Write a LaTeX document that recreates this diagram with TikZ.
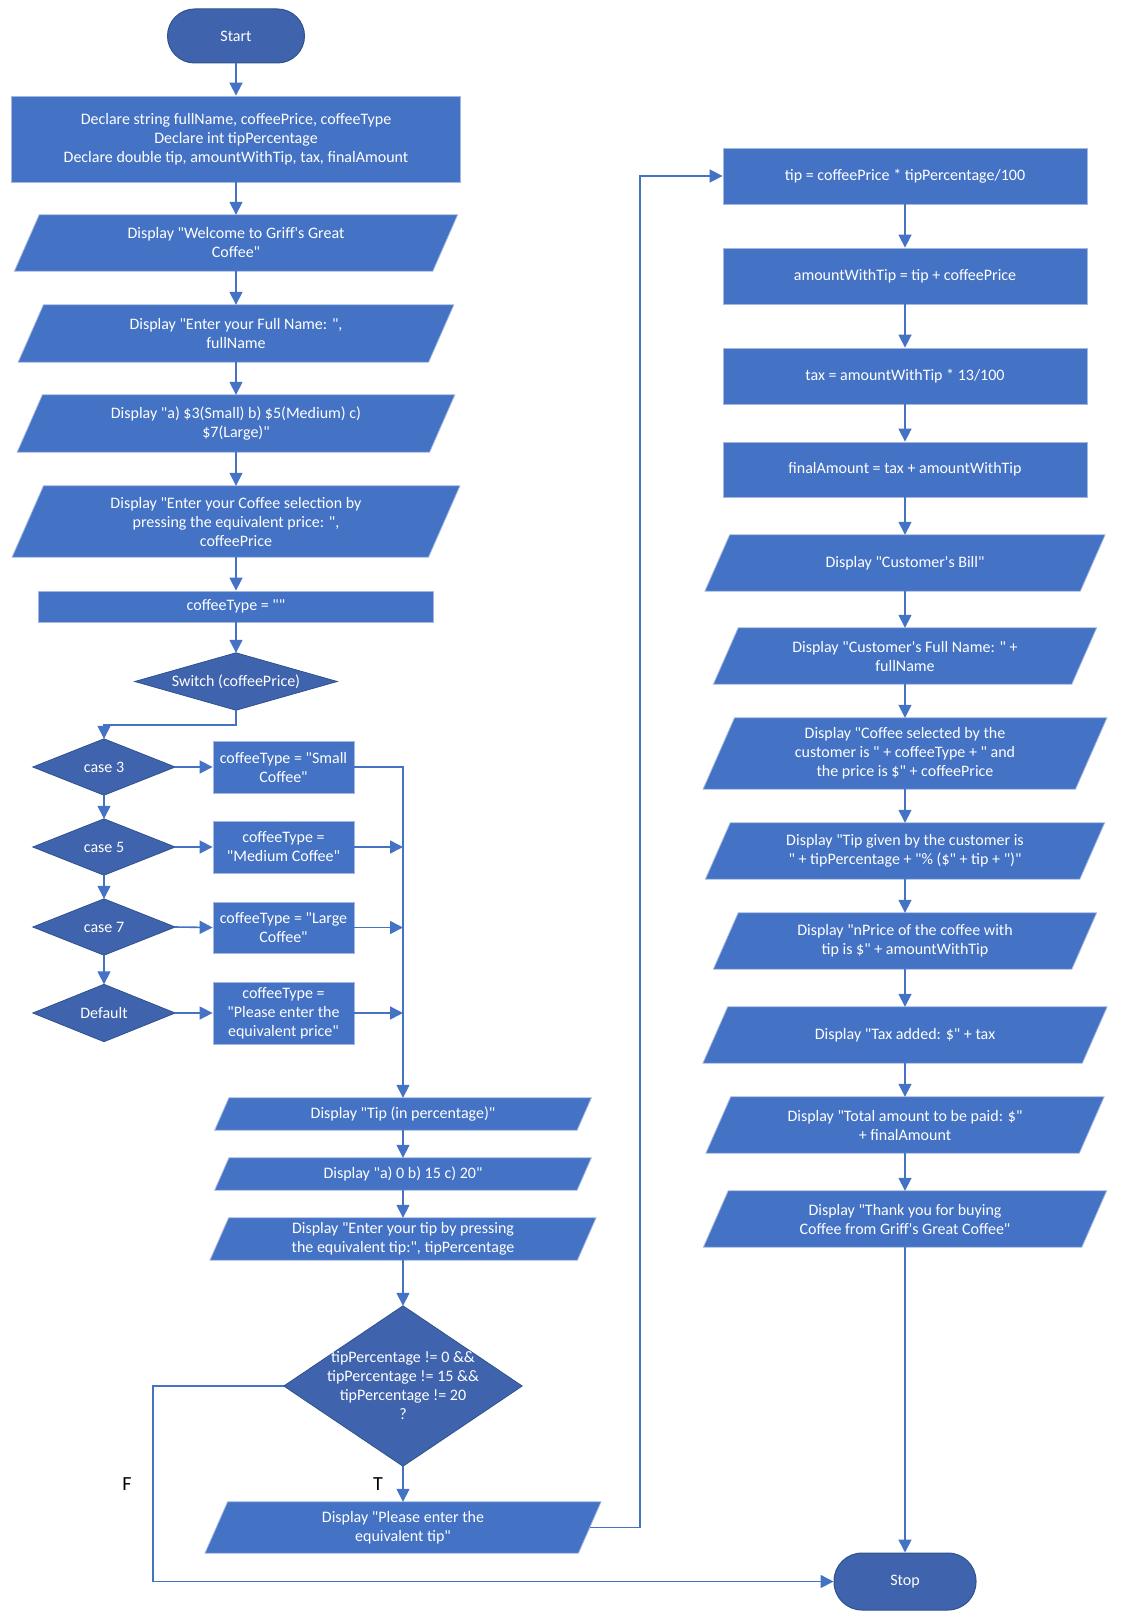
\documentclass[tikz,border=0pt]{standalone}
\usepackage{fontspec}
\newfontfamily\flowfont{Carlito}
\usetikzlibrary{calc,arrows.meta}
\pgfdeclarelayer{bg}
\pgfsetlayers{bg,main}

\definecolor{boxblue}{HTML}{4472C4}
\definecolor{darkblue}{HTML}{3F63AD}
\definecolor{edgedark}{HTML}{2F528F}
\definecolor{edgelight}{HTML}{A3B7DF}

\tikzset{
  base/.style={inner sep=0pt, text=white, align=center, font=\flowfont\fontsize{16}{19}\selectfont},
  proc/.style={base, rectangle, fill=boxblue, draw=edgelight, line width=0.8pt},
  term/.style={base, rectangle, fill=darkblue, draw=edgedark, line width=1pt},
  iobox/.style={base, rectangle},
  decbox/.style={base, rectangle},
  iofill/.style={fill=boxblue, draw=edgelight, line width=0.8pt},
  decfill/.style={fill=darkblue, draw=edgedark, line width=0.8pt},
  wire/.style={draw=boxblue, line width=1.6pt},
  conn/.style={wire, -{Triangle[length=13pt,width=13pt]}},
  lbl/.style={inner sep=0pt, text=black, font=\flowfont\fontsize{20}{24}\selectfont}
}

\begin{document}
\begin{tikzpicture}[x=1pt,y=-1pt]
\useasboundingbox (0,0) rectangle (1121,1621);

% ---- input / selection column ----
\node[term, rounded corners=27pt, minimum width=137pt, minimum height=54pt] (start) at (236,36) {Start};
\node[proc, minimum width=449pt, minimum height=86pt] (decl) at (236,139)
  {Declare string fullName, coffeePrice, coffeeType\\Declare int tipPercentage\\Declare double tip, amountWithTip, tax, finalAmount};
\node[iobox, minimum width=418pt, minimum height=56pt] (wel) at (236,243)
  {Display "Welcome to Griff's Great\\Coffee"};
\node[iobox, minimum width=410pt, minimum height=57pt] (fn) at (236,333.5)
  {Display "Enter your Full Name: ",\\fullName};
\node[iobox, minimum width=412pt, minimum height=57pt] (menu) at (236,423.5)
  {Display "a) \$3(Small) b) \$5(Medium) c)\\\$7(Large)"};
\node[iobox, minimum width=416pt, minimum height=71pt] (sel) at (236,521.5)
  {Display "Enter your Coffee selection by\\pressing the equivalent price: ",\\coffeePrice};
\node[proc, minimum width=395pt, minimum height=31pt] (ct0) at (236,606.5) {coffeeType = ""};
\node[decbox, minimum width=202pt, minimum height=57pt] (sw) at (236,681.5) {Switch (coffeePrice)};

% ---- switch cases ----
\node[decbox, minimum width=142pt, minimum height=56pt] (c3) at (104,767) {case 3};
\node[decbox, minimum width=142pt, minimum height=56pt] (c5) at (104,847) {case 5};
\node[decbox, minimum width=142pt, minimum height=56pt] (c7) at (104,927) {case 7};
\node[decbox, minimum width=142pt, minimum height=57pt] (cd) at (104,1013) {Default};
\node[proc, minimum width=141pt, minimum height=52pt] (b3) at (283.5,767) {coffeeType = "Small\\Coffee"};
\node[proc, minimum width=141pt, minimum height=52pt] (b5) at (283.5,847) {coffeeType =\\"Medium Coffee"};
\node[proc, minimum width=141pt, minimum height=51pt] (b7) at (283.5,927.5) {coffeeType = "Large\\Coffee"};
\node[proc, minimum width=141pt, minimum height=62pt] (bd) at (283.5,1013) {coffeeType =\\"Please enter the\\equivalent price"};

% ---- tip input ----
\node[iobox, minimum width=362pt, minimum height=32pt] (tipin) at (403,1114) {Display "Tip (in percentage)"};
\node[iobox, minimum width=362pt, minimum height=32pt] (tipopt) at (403,1174) {Display "a) 0 b) 15 c) 20"};
\node[iobox, minimum width=367pt, minimum height=42pt] (tipent) at (403,1239)
  {Display "Enter your tip by pressing\\the equivalent tip:", tipPercentage};
\node[decbox, minimum width=238pt, minimum height=160pt] (dec) at (403,1386)
  {tipPercentage != 0 \&\&\\tipPercentage != 15 \&\&\\tipPercentage != 20\\?};
\node[iobox, minimum width=373pt, minimum height=51pt] (retry) at (403,1527.5)
  {Display "Please enter the\\equivalent tip"};
\node[lbl] (tlab) at (378,1484) {T};
\node[lbl] (flab) at (127,1484) {F};

% ---- calculation and bill column ----
\node[proc, minimum width=364pt, minimum height=56pt] (tip) at (905,176) {tip = coffeePrice * tipPercentage/100};
\node[proc, minimum width=364pt, minimum height=56pt] (awt) at (905,276) {amountWithTip = tip + coffeePrice};
\node[proc, minimum width=364pt, minimum height=56pt] (taxn) at (905,376) {tax = amountWithTip * 13/100};
\node[proc, minimum width=364pt, minimum height=55pt] (fin) at (905,469.5) {finalAmount = tax + amountWithTip};
\node[iobox, minimum width=375pt, minimum height=56pt] (bill) at (905,563) {Display "Customer's Bill"};
\node[iobox, minimum width=358pt, minimum height=56pt] (cfn) at (905,656)
  {Display "Customer's Full Name: " +\\fullName};
\node[iobox, minimum width=372pt, minimum height=71pt] (csel) at (905,753.5)
  {Display "Coffee selected by the\\customer is " + coffeeType + " and\\the price is \$" + coffeePrice};
\node[iobox, minimum width=374pt, minimum height=56pt] (ctip) at (905,851)
  {Display "Tip given by the customer is\\" + tipPercentage + "\% (\$" + tip + ")"};
\node[iobox, minimum width=358pt, minimum height=56pt] (cpr) at (905,941)
  {Display "nPrice of the coffee with\\tip is \$" + amountWithTip};
\node[iobox, minimum width=379pt, minimum height=56pt] (ctax) at (905,1035) {Display "Tax added: \$" + tax};
\node[iobox, minimum width=373pt, minimum height=56pt] (ctot) at (905,1125)
  {Display "Total amount to be paid: \$"\\+ finalAmount};
\node[iobox, minimum width=378pt, minimum height=56pt] (cthx) at (905,1219)
  {Display "Thank you for buying\\Coffee from Griff's Great Coffee"};
\node[term, rounded corners=28pt, minimum width=142pt, minimum height=57pt] (stop) at (905,1581.5) {Stop};

% ---- shape outlines behind the text ----
\begin{pgfonlayer}{bg}
  \foreach \nd in {wel,fn,menu,sel,tipin,tipopt,tipent,retry,bill,cfn,csel,ctip,cpr,ctax,ctot,cthx}{
    \path[iofill] let \p1=(\nd.north), \p2=(\nd.south), \n1={0.22*(\y1-\y2)} in
      ($(\nd.north west)+(\n1,0)$) -- ($(\nd.north east)+(\n1,0)$) --
      ($(\nd.south east)-(\n1,0)$) -- ($(\nd.south west)-(\n1,0)$) -- cycle;
  }
  \foreach \nd in {sw,c3,c5,c7,cd,dec}{
    \path[decfill] (\nd.north) -- (\nd.east) -- (\nd.south) -- (\nd.west) -- cycle;
  }
\end{pgfonlayer}

% ---- connectors ----
\draw[conn] (start.south) -- (decl.north);
\draw[conn] (decl.south) -- (wel.north);
\draw[conn] (wel.south) -- (fn.north);
\draw[conn] (fn.south) -- (menu.north);
\draw[conn] (menu.south) -- (sel.north);
\draw[conn] (sel.south) -- (ct0.north);
\draw[conn] (ct0.south) -- (sw.north);
\draw[conn] (sw.south) -- ++(0,15) -| (c3.north);
\draw[conn] (c3.south) -- (c5.north);
\draw[conn] (c5.south) -- (c7.north);
\draw[conn] (c7.south) -- (cd.north);
\draw[conn] (c3.east) -- (b3.west);
\draw[conn] (c5.east) -- (b5.west);
\draw[conn] (c7.east) -- (b7.west);
\draw[conn] (cd.east) -- (bd.west);
\draw[conn] (b3.east) -| (tipin.north);
\draw[conn] (b5.east) -- (b5.east -| tipin.north);
\draw[conn] (b7.east) -- (b7.east -| tipin.north);
\draw[conn] (bd.east) -- (bd.east -| tipin.north);
\draw[conn] (tipin.south) -- (tipopt.north);
\draw[conn] (tipopt.south) -- (tipent.north);
\draw[conn] (tipent.south) -- (dec.north);
\draw[conn] (dec.south) -- (retry.north);

\coordinate (fturn) at (153,0);
\coordinate (tturn) at (640,0);
\draw[conn] (dec.west) -- (dec.west -| fturn) -- (fturn |- stop.west) -- (stop.west);
\draw[conn] (retry.east) -- (retry.east -| tturn) -- (tturn |- tip.west) -- (tip.west);

\draw[conn] (tip.south) -- (awt.north);
\draw[conn] (awt.south) -- (taxn.north);
\draw[conn] (taxn.south) -- (fin.north);
\draw[conn] (fin.south) -- (bill.north);
\draw[conn] (bill.south) -- (cfn.north);
\draw[conn] (cfn.south) -- (csel.north);
\draw[conn] (csel.south) -- (ctip.north);
\draw[conn] (ctip.south) -- (cpr.north);
\draw[conn] (cpr.south) -- (ctax.north);
\draw[conn] (ctax.south) -- (ctot.north);
\draw[conn] (ctot.south) -- (cthx.north);
\draw[conn] (cthx.south) -- (stop.north);
\end{tikzpicture}
\end{document}
